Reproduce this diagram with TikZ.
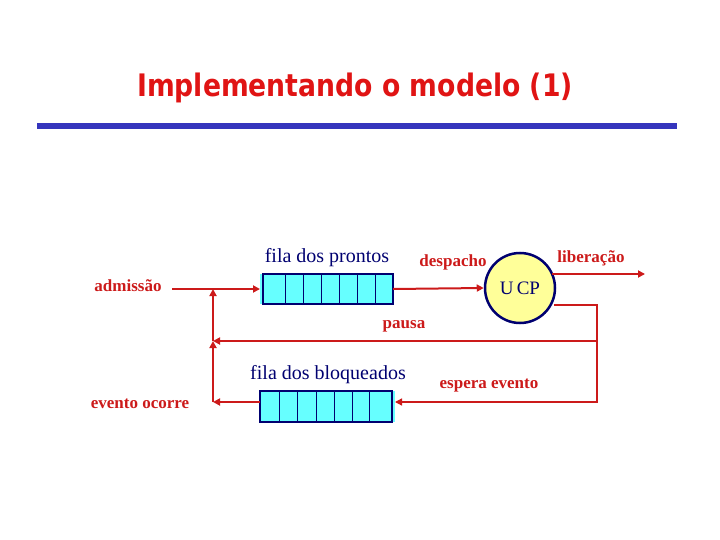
\documentclass[tikz,border=0pt]{standalone}
\usepackage{fontspec}
\setmainfont{Liberation Serif}
\newfontfamily\titlefont{DejaVu Sans}
\usetikzlibrary{arrows.meta}
\definecolor{lred}{HTML}{CC1A1A}
\definecolor{tred}{HTML}{E01414}
\definecolor{navy}{HTML}{000070}
\definecolor{barblue}{HTML}{3535BD}
\definecolor{qcyan}{HTML}{66FFFF}
\definecolor{cpuy}{HTML}{FFFF99}
\begin{document}
\begin{tikzpicture}[x=1pt,y=-1pt,
  lbl/.style={text=lred, font=\fontsize{17}{19}\selectfont\bfseries, inner sep=0pt},
  qlbl/.style={text=navy, font=\fontsize{20}{22}\selectfont, inner sep=0pt},
  queue/.style={draw=navy, fill=qcyan, line width=2.5pt, inner sep=0pt},
  cell/.style={draw=navy, line width=1pt},
  tip/.style={-{Triangle[length=7pt,width=7pt]}},
  flow/.style={draw=lred, line width=2pt},
  thinflow/.style={draw=lred, line width=1.3pt},
]
\useasboundingbox (0,0) rectangle (720,540);

% title and bar
\node[text=tred, font=\titlefont\bfseries\fontsize{31}{34}\selectfont, inner sep=0pt, anchor=base] (title) at (355,97)
  {\scalebox{0.86}[1]{Implementando o modelo (1)}};
\fill[barblue] (37,123) rectangle (677,129);

% ready queue
\fill[qcyan] (260,274) rectangle (264,304);
\node[queue, minimum width=130pt, minimum height=30pt] (q1) at (328,289) {};
\foreach \x in {285,303,321,339,357,375} \draw[cell] (\x,274) -- (\x,304);
\node[qlbl] (q1lbl) at (327,258) {fila dos prontos};

% blocked queue
\fill[qcyan] (391,391) rectangle (395,422);
\node[queue, minimum width=132pt, minimum height=31pt] (q2) at (326,406.5) {};
\foreach \x in {279,297,316,334,352,369} \draw[cell] (\x,391) -- (\x,422);
\node[qlbl] (q2lbl) at (328,375) {fila dos bloqueados};

% CPU
\node[circle, draw=navy, fill=cpuy, line width=2.5pt, minimum size=70pt, inner sep=0pt,
      font=\fontsize{19}{21}\selectfont, text=navy] (cpu) at (520,288) {U\,CP};

% labels
\node[lbl] (adm) at (128,286) {admissão};
\node[lbl] (desp) at (453,262) {despacho};
\node[lbl] (lib) at (591,258) {liberação};
\node[lbl] (pausa) at (404,326) {pausa};
\node[lbl] (esp) at (489,386) {espera evento};
\node[lbl] (evt) at (140,404) {evento ocorre};

% coordinates
\coordinate (q1in) at (260,289);
\coordinate (q1out) at (393,289);
\coordinate (admst) at (172,289);
\coordinate (j1) at (213,289);
\coordinate (j2) at (213,341);
\coordinate (j3) at (213,402);
\coordinate (q2in) at (395,402);
\coordinate (q2out) at (260,402);
\coordinate (libst) at (552,274);
\coordinate (libend) at (645,274);
\coordinate (cpuo) at (554,305);
\coordinate (r1) at (597,305);
\coordinate (r2) at (597,341);
\coordinate (r3) at (597,402);

% connectors
\draw[flow, tip] (admst) -- (q1in);
\draw[flow, tip] (q1out) -- (cpu.west);
\draw[flow, tip] (libst) -- (libend);
\draw[flow, tip] (r2) -- (j2);
\draw[flow, tip] (j2) -- (j1);
\draw[flow, tip] (q2out) -- (j3);
\draw[flow, tip] (j3) -- (j2);
\draw[thinflow] (cpuo) -- (r1) -- (r2);
\draw[thinflow, tip] (r2) -- (r3) -- (q2in);
\end{tikzpicture}
\end{document}
